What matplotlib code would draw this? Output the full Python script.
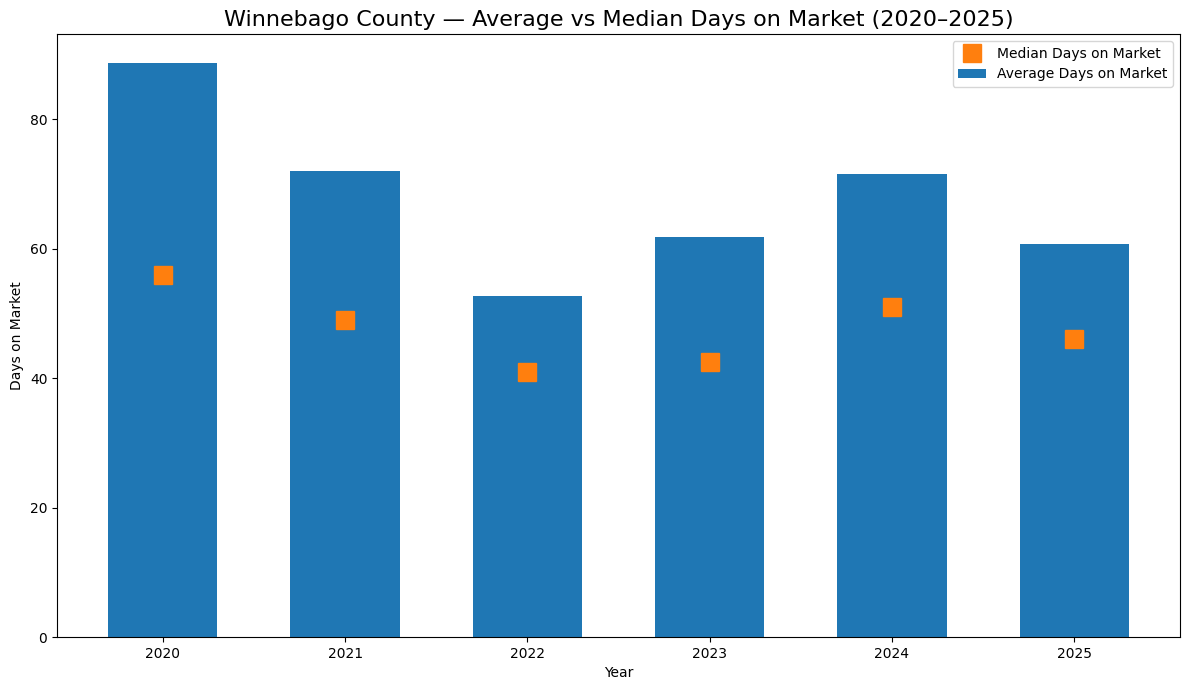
import matplotlib
matplotlib.use("Agg")
import matplotlib.pyplot as plt
import numpy as np

# ---------- data ----------
years = ["2020", "2021", "2022", "2023", "2024", "2025"]
avg_days = [88.7, 72.0, 52.7, 61.8, 71.5, 60.7]
median_days = [55.9, 49.0, 40.9, 42.5, 51.0, 46.0]

fig, ax = plt.subplots(figsize=(11.89, 6.9), dpi=100)

x = np.arange(len(years))
ax.bar(x, avg_days, width=0.6, color="#1f77b4", label="Average Days on Market")
ax.plot(x, median_days, linestyle="none", marker="s", markersize=13,
        color="#ff7f0e", label="Median Days on Market")

ax.set_xticks(x)
ax.set_xticklabels(years)
ax.set_xlabel("Year")
ax.set_ylabel("Days on Market")
ax.set_title("Winnebago County \u2014 Average vs Median Days on Market (2020\u20132025)",
             fontsize=16)
ax.legend(loc="upper right")

fig.subplots_adjust(left=0.048, right=0.9924, top=0.9507, bottom=0.0768)
fig.savefig("out.png", dpi=100)
